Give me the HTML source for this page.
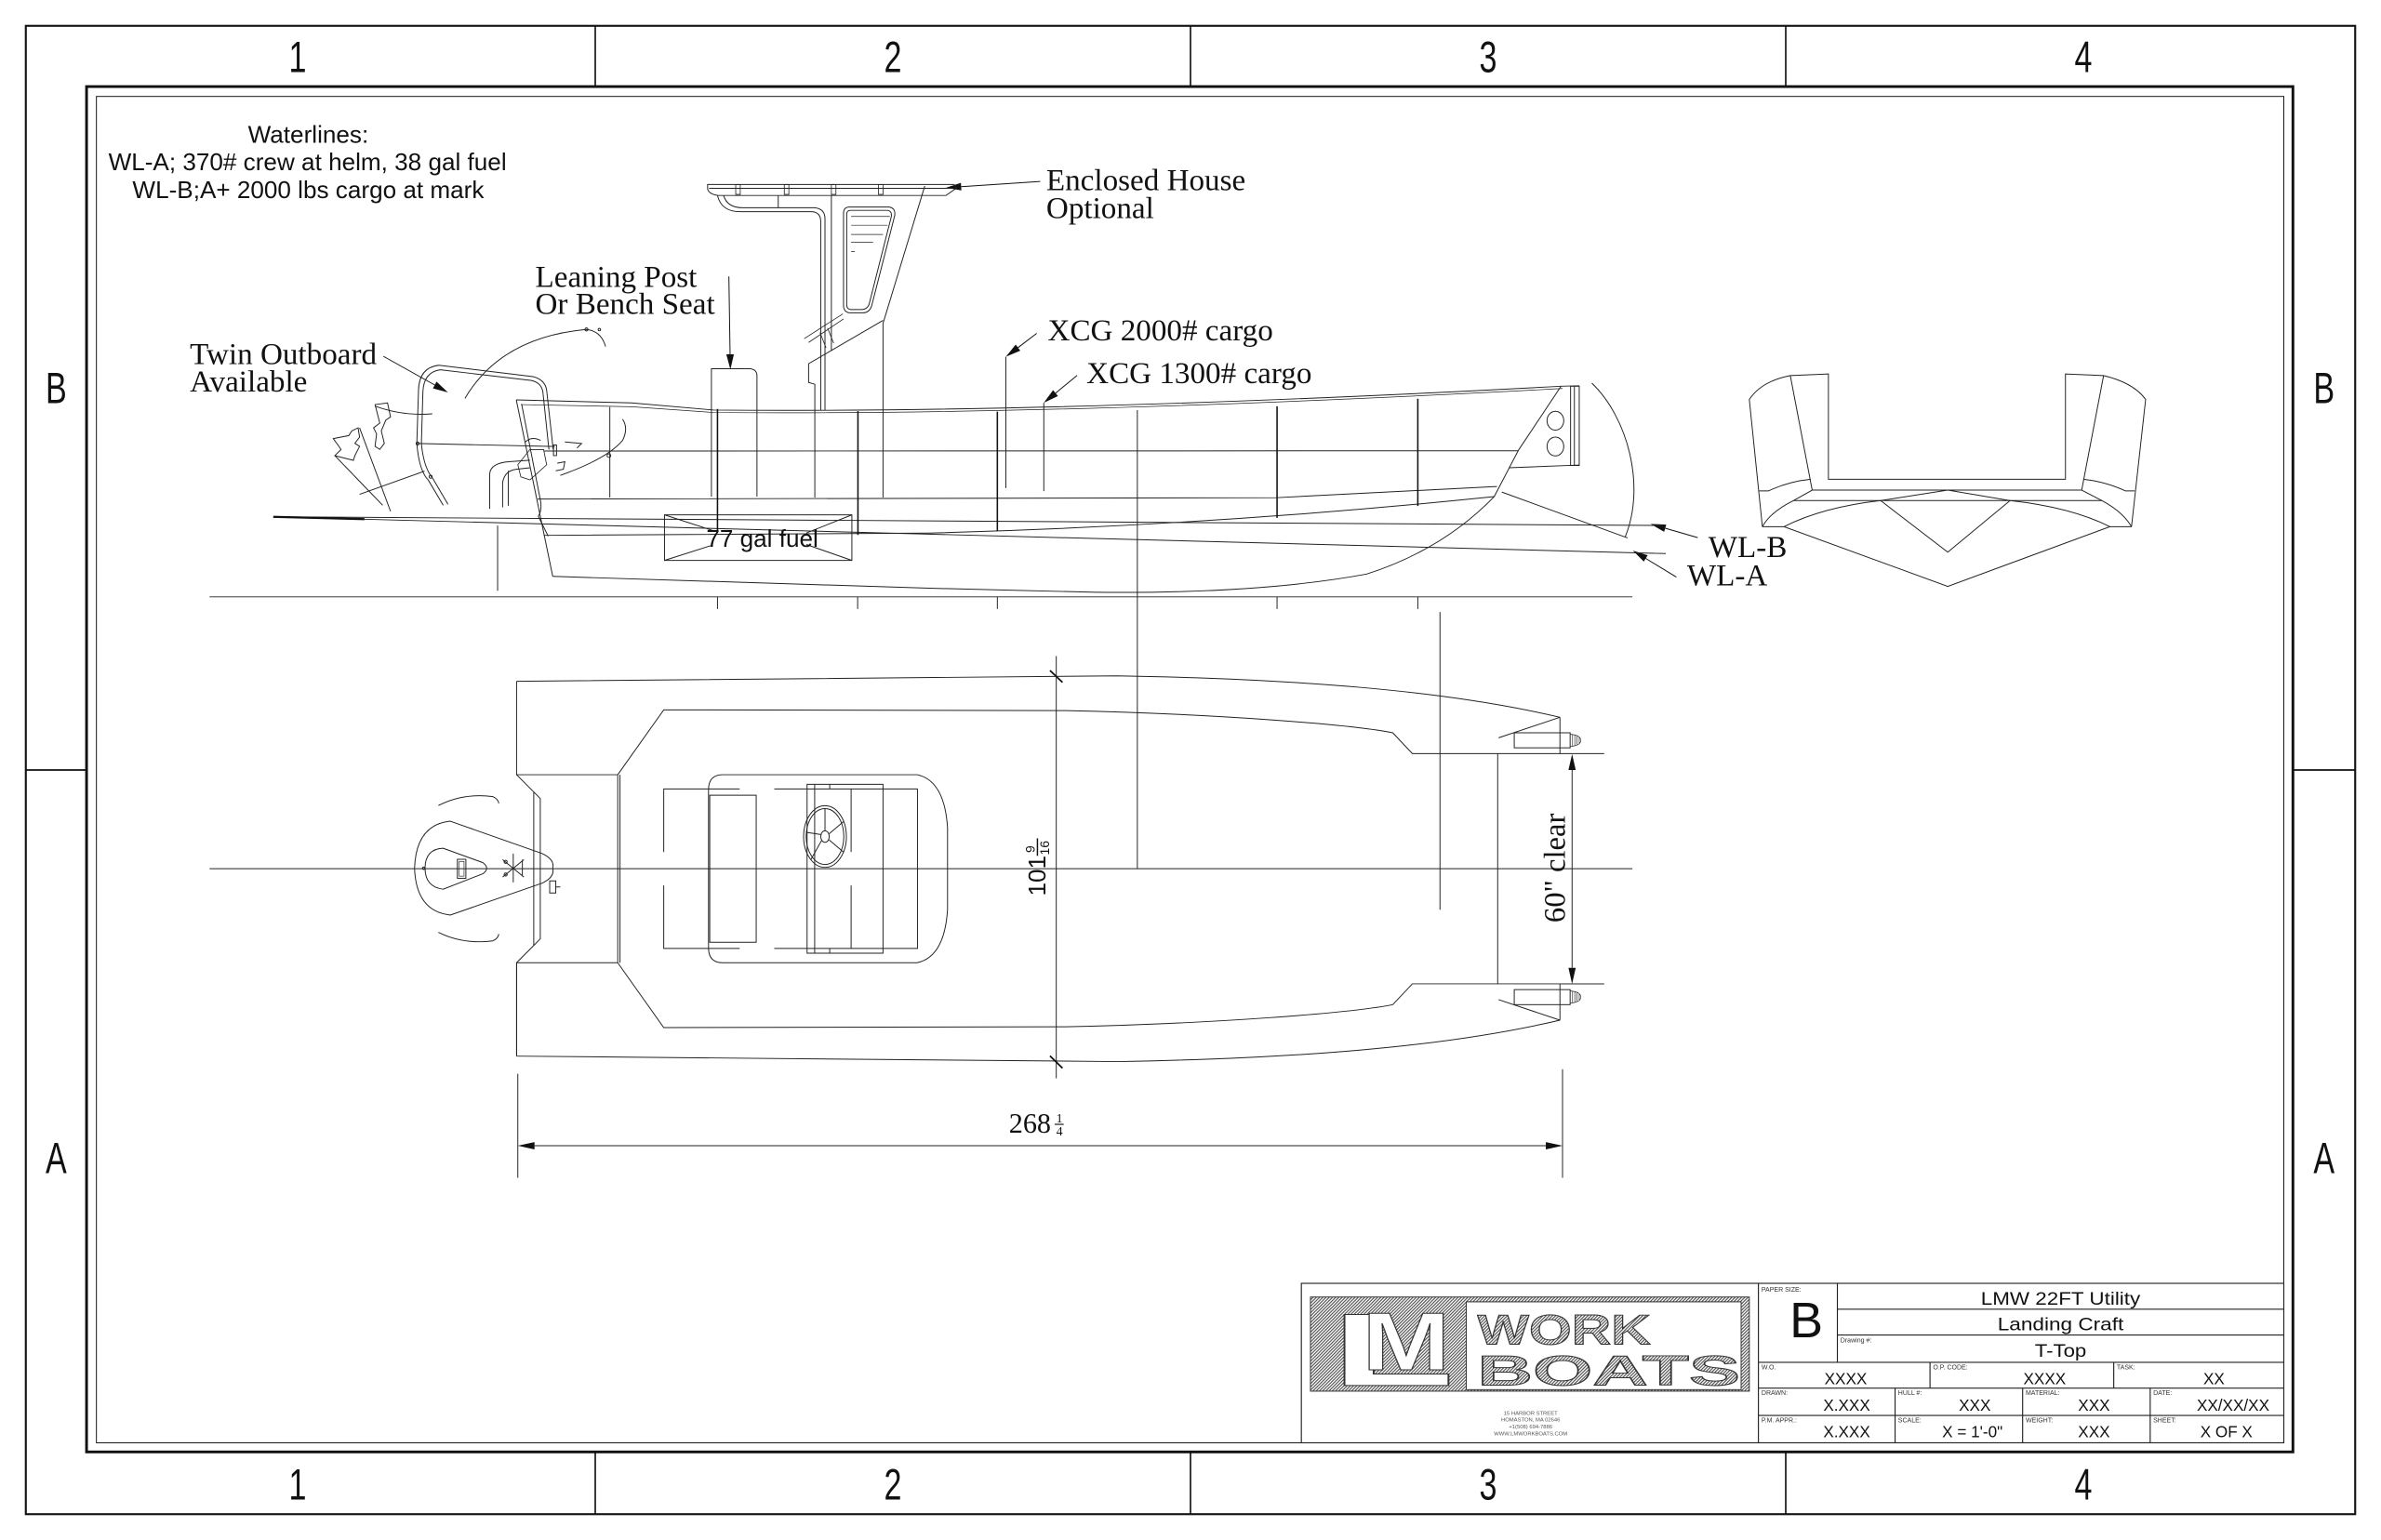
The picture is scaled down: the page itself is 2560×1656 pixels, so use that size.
<!DOCTYPE html>
<html><head><meta charset="utf-8"><style>
html,body{margin:0;padding:0;background:#fff;overflow:hidden}
svg{display:block}
</style></head><body>
<svg xmlns="http://www.w3.org/2000/svg" width="2560" height="1656" viewBox="0 0 1568 1014" preserveAspectRatio="none">
<defs>
<pattern id="h" width="1.5" height="1.5" patternUnits="userSpaceOnUse" patternTransform="rotate(45)"><rect width="1.5" height="1.5" fill="#fff"/><line x1="0.5" y1="0" x2="0.5" y2="1.5" stroke="#333" stroke-width="0.6"/></pattern>
<g id="ph" fill="none" stroke="#222" stroke-width="0.6">
  <path d="M340.2,448.6 L735.5,445 C850,447 950,454 1027.3,472.3"/>
  <path d="M340.2,448.6 L340.2,510.1 L355.8,525.8 L355.8,572 M351.5,521.5 L351.5,572"/>
  <path d="M340.2,510.1 L406.8,510.1 M406.8,510.1 L406.8,572 M408.3,510.1 L408.3,572"/>
  <path d="M406.8,510.1 L437.1,467.4 L702,467.9 C800,470 890,477 917.2,482.5 L930.1,496.2 L1028,496.2 L1056.4,496.2"/>
  <path d="M1027.3,472.3 L1027.3,496.2 M986.9,485.8 L1027.3,472.3"/>
  <rect x="997.2" y="482.5" width="36.8" height="9.9"/>
  <path d="M1034,483.5 Q1041,484 1041,487.5 Q1041,491 1034,491.5 M1035.6,483.8V491.2 M1037.1,484.2V490.8 M1038.6,484.8V490.2 M1040,485.6V489.4" stroke-width="0.4"/>
  <!-- console outline -->
  <path d="M466.6,572 L466.6,520 Q466.6,510.1 476,510.1 L604,510.1 Q622,514 624,545 L624,572"/>
  <!-- seat -->
  <path d="M437.1,561 L437.1,519.5 L487.1,519.5 M509.9,519.5 L604.2,519.5 L604.2,572"/>
  <path d="M467.4,572 L467.4,523.6 L498,523.6 L498,572"/>
  <path d="M531.5,572 L531.5,516.4 L581.5,516.4 L581.5,572 M536.5,516.4 L536.5,572 M546.4,516.4 L546.4,519.5 M560.5,519.5 L560.5,561"/>
</g>
</defs>
<rect width="1568" height="1014" fill="#fff"/>

<!-- FRAME -->
<g fill="none" stroke="#111">
<rect x="17" y="17" width="1534" height="980" stroke-width="1.3"/>
<rect x="57" y="57" width="1453" height="899" stroke-width="1.8"/>
<rect x="63.5" y="63.5" width="1440.5" height="886.5" stroke-width="0.6"/>
<path d="M392,17V57M784,17V57M1176,17V57M392,956V997M784,956V997M1176,956V997M17,507H57M1510,507H1551" stroke-width="1"/>
</g>
<g font-family="Liberation Sans, sans-serif" font-size="29" text-anchor="middle" fill="#111">
<text transform="translate(196,47.5) scale(0.72,1)">1</text>
<text transform="translate(588,47.5) scale(0.72,1)">2</text>
<text transform="translate(980,47.5) scale(0.72,1)">3</text>
<text transform="translate(1372,47.5) scale(0.72,1)">4</text>
<text transform="translate(196,987.5) scale(0.72,1)">1</text>
<text transform="translate(588,987.5) scale(0.72,1)">2</text>
<text transform="translate(980,987.5) scale(0.72,1)">3</text>
<text transform="translate(1372,987.5) scale(0.72,1)">4</text>
<text transform="translate(37,265.5) scale(0.72,1)">B</text>
<text transform="translate(1530.5,265.5) scale(0.72,1)">B</text>
<text transform="translate(37,772.5) scale(0.72,1)">A</text>
<text transform="translate(1530.5,772.5) scale(0.72,1)">A</text>
</g>

<!-- NOTES -->
<g font-family="Liberation Sans, sans-serif" font-size="16" text-anchor="middle" fill="#111">
<text x="203" y="94">Waterlines:</text>
<text x="202.5" y="112">WL-A; 370# crew at helm, 38 gal fuel</text>
<text x="203" y="130.5">WL-B;A+ 2000 lbs cargo at mark</text>
</g>
<g font-family="Liberation Serif, serif" font-size="20.3" fill="#111">
<text x="689" y="125.2">Enclosed House</text>
<text x="689" y="143.5">Optional</text>
<text x="352.5" y="188.8">Leaning Post</text>
<text x="352.5" y="206.8">Or Bench Seat</text>
<text x="125" y="239.8">Twin Outboard</text>
<text x="125" y="257.8">Available</text>
<text x="690" y="224.2">XCG 2000# cargo</text>
<text x="715.5" y="252.3">XCG 1300# cargo</text>
<text x="1125" y="366.9">WL-B</text>
<text x="1111" y="385.5">WL-A</text>
</g>

<!-- LEADERS + ARROWHEADS -->
<g stroke="#111" stroke-width="0.6" fill="none">
<path d="M685,119.5 L633,122.9"/>
<path d="M480,182 L480.8,233.3"/>
<path d="M252.5,234.6 L286.3,253.5"/>
<path d="M682.7,219.5 L670.4,228.9"/>
<path d="M709.3,247.2 L695.1,258.9"/>
<path d="M1118,354 L1096.6,347.8"/>
<path d="M1104,380 L1083.8,367.7"/>
</g>
<g fill="#111">
<polygon points="623,123.6 632.8,120.4 633.1,125.4"/>
<polygon points="481,243.3 478.3,233.3 483.3,233.3"/>
<polygon points="295,258.4 285.1,255.7 287.5,251.3"/>
<polygon points="662.4,234.9 668.9,226.9 671.9,230.9"/>
<polygon points="687.4,265.2 693.5,256.9 696.7,260.8"/>
<polygon points="1087,345 1097.3,345.4 1095.9,350.2"/>
<polygon points="1075.3,362.5 1085.1,365.6 1082.5,369.8"/>
</g>

<!-- SIDE VIEW -->
<g fill="none" stroke="#222" stroke-width="0.6">
  <!-- T-top canopy -->
  <path d="M466,121.5 L628,121.5 Q630.5,122.5 629,124.5 L623,128.7 L473,128.7 Q467,128 466,124.5 Z"/>
  <path d="M467,124 L627,124"/>
  <path d="M484.5,121.5h3v6.5h-3z M516.5,121.5h3v6.5h-3z M547.5,121.5h3v6.5h-3z M578.5,121.5h3v6.5h-3z" stroke-width="0.5"/>
  <!-- tube -->
  <path d="M472.5,128.7 Q475,139.4 487.5,139.4 L535,139.4 Q540.5,140 540.5,146 L540.5,270"/>
  <path d="M476.5,128.7 Q479,136.8 489,136.8 L536.5,136.8 Q543.3,137.5 543.3,144 L543.3,270"/>
  <path d="M512.5,128.7 L512.5,136.8"/>
  <!-- console -->
  <path d="M609,122.5 L581.5,213 L581.5,327.6"/>
  <path d="M547.5,128.7 L547.5,231"/>
  <path d="M581.5,211 L532.5,239.5 L532.5,251.8 L536.6,253 L536.6,327.6"/>
  <!-- window -->
  <path d="M559,136.3 L585.5,136.3 Q590,137 589.2,142 L574,201.5 Q572.5,206 568,206 L559.5,206 Q555.5,205.5 555.5,201 L555.5,140.5 Q555.5,136.5 559,136.3 Z"/>
  <path d="M560,138.5 L584.5,138.5 Q587.5,139 587,142.5 L572.3,200.5 Q571,203.8 567.5,203.8 L560,203.8 Q557.6,203.4 557.6,200.5 L557.6,141 Q557.6,138.7 560,138.5 Z"/>
  <path d="M560.5,142.5 L586,142.5 M560.5,148.3 L584.5,148.3 M560.5,154.4 L581.5,154.4 M560.5,159.5 L575,159.5 M560.5,165.6 L563,165.6" stroke-width="0.45"/>
  <!-- throttle -->
  <path d="M529.6,223 L555,206.7 M532.5,225.5 L555.5,210 M540,219 L544,229 M545,216 L549,226" stroke-width="0.5"/>
  <!-- leaning post -->
  <path d="M468.5,327 L468.5,242.8 L494,242.8 Q498.5,243.3 498.5,247.5 L498.5,327"/>
  <!-- sheer / rub rail -->
  <path d="M340,263.3 L416,265.3 L470,270 Q700,272 1028,254.3"/>
  <path d="M343,266.4 L416,267.8 L470,271.6 Q700,273.6 1029,255.8" stroke-width="0.45"/>
  <!-- transom -->
  <path d="M340,263.3 L364,379.5"/>
  <path d="M343.5,266 L356,330 Q357,336 354.5,340 L361,353"/>
  <!-- deck lines -->
  <path d="M354,328.6 L840.5,327.7 L985.8,320.3"/>
  <path d="M358,297 L1000,296.8"/>
  <path d="M358,352.5 L612,351 Q800,346 984,327"/>
  <!-- keel & bow -->
  <path d="M364,379.5 L612,387.3 L722,390 Q830,391 900,378 Q950,362 984,327 L1000,296.4 L1028,254.3 L1040,254"/>
  <!-- ramp -->
  <rect x="1034.3" y="254.3" width="5.7" height="52.2"/>
  <path d="M1036.8,254.3 L1036.8,306.5 M993.6,308 L1040,306.2"/>
  <ellipse cx="1024.3" cy="277" rx="5.5" ry="6.2"/>
  <ellipse cx="1024.3" cy="294" rx="5.5" ry="6.2"/>
  <path d="M1048.3,252.3 C1072,275 1084,320 1070.2,353.7"/>
  <path d="M989,324 L1071.8,354.2"/>
  <!-- waterlines -->
  <path d="M183,340.3 L1095,346"/>
  <path d="M180,340.3 L1097,364.5"/>
  <path d="M180,340.3 L240,341.8" stroke-width="1.4" stroke="#111"/>
  <!-- fuel box -->
  <rect x="437.6" y="339" width="123.4" height="30"/>
  <path d="M437.6,339 L470,349.5 M437.6,369 L469,359 M561,339 L531,351 M561,369 L531,358.5"/>
  <!-- station lines -->
  <path d="M401.6,268 L401.6,327.6 M662.4,234.9 L662.4,321.4 M687.4,265.2 L687.4,323.4 M749,270 L749,572 M327.7,346 L327.7,389 M948.3,403 L948.3,599"/>
  <path d="M472.5,269.3 L472.5,350 M565,270.7 L565,352.2 M656.8,271 L656.8,349.6 M841,267.5 L841,341 M933.7,262.5 L933.7,333.2" stroke="#111" stroke-width="0.95"/>
  <!-- baseline + ticks -->
  <path d="M138,393 L1075,393"/>
  <path d="M472.5,393 L472.5,401 M564.8,393 L564.8,401 M656.8,393 L656.8,401 M841,393 L841,401 M933.7,393 L933.7,401"/>
  <!-- outboard -->
  <path d="M274.5,292 L275.6,257 Q276,242 289,240.5 L351,248 Q359,250 360,257 L364.3,296"/>
  <path d="M277.5,292 L278.5,258 Q279,245 290,243.5 L350,250.5 Q356.5,252 357.5,258 L361.5,296"/>
  <path d="M274.5,292 Q276,310 282,316 L291.9,332.7 M277.5,292 Q279,308 285,315 L295,332"/>
  <path d="M274.5,292 L365.3,294"/>
  <circle cx="275" cy="292" r="1"/><circle cx="283.6" cy="313.9" r="1"/>
  <path d="M219.5,288.8 L229.7,286.8 L231.7,283.7 L235.8,281.7 L236.8,287.8 L233.7,291.9 L236.8,293.9 L233.7,300 L232.7,303.1 L220.5,300 L224.6,296 L222.5,292.9 Z"/>
  <path d="M247,266.4 L255.2,265.3 L257.2,274.5 L254.1,276.6 L251.1,283.7 L253.1,291.9 L250.1,295.9 L247,293.9 L248,285.7 L246,281.7 L250.1,278.6 Z"/>
  <path d="M236.8,281.7 L257.2,336.7 M220.5,300 L252,332.7 M236.8,325.5 L279.6,310.2"/>
  <path d="M247,267.4 Q265,274 284.7,272.5"/>
  <path d="M306.2,262.3 Q330,222 386.2,216.9 Q396,218 398.8,228.2"/>
  <circle cx="386.2" cy="216.9" r="1"/><circle cx="394.7" cy="217" r="0.8"/>
  <path d="M322.5,335 L322.5,312 Q323,305 335,304 L349,303 M331,334 L331,318 Q332,310 340,309 L349,308 M334.7,310 L334.7,333"/>
  <path d="M341,306 L349,296 L358,296 L360,306 L349,316 L343,314 Z" stroke-width="0.5"/>
  <path d="M369,313 Q400,302 410,290 Q414,282 410,276"/>
  <circle cx="401" cy="300" r="1.2"/>
  <path d="M364.5,293 h2 v7 h-2 z M372,291 L383,292 L380,295 M346,291 Q350,287 356,290 M367,305 L372,304 L371,309 L366,310"/>
</g>

<!-- END VIEW -->
<g fill="none" stroke="#222" stroke-width="0.6">
  <path d="M1160.6,346.8 L1152,263 Q1160,251 1179,247.3 L1204.1,246.2 L1204.1,315.6 L1360.2,315.6 L1360.2,246.2 L1385.3,247.3 Q1405,252 1413,263 L1403.7,346.8"/>
  <path d="M1179,247.3 L1193.4,322.7 M1385.3,247.3 L1370.9,322.7"/>
  <path d="M1193.4,322.7 L1370.9,322.7"/>
  <path d="M1181.1,329.6 L1384.2,329.6"/>
  <path d="M1193.4,322.7 L1181.1,329.6 Q1166,337 1160.6,346.8 M1370.9,322.7 L1384.2,329.6 Q1398,337 1403.7,346.8"/>
  <path d="M1174.9,346.8 Q1200,334 1238.5,329.6 L1282.7,322.7 L1323.7,329.6 Q1364,334 1389.4,346.8"/>
  <path d="M1238.5,329.6 L1282.7,363.6 L1323.7,329.6"/>
  <path d="M1160.6,346.8 L1174.9,346.8 L1282.7,386.1 L1389.4,346.8 L1403.7,346.8"/>
  <path d="M1158.5,323.2 L1164.7,323.2 Q1178,317 1192.4,315.6 M1405.8,323.2 L1399.6,323.2 Q1386,317 1371.9,315.6"/>
</g>

<!-- PLAN VIEW -->
<use href="#ph"/>
<use href="#ph" transform="translate(0,1144) scale(1,-1)"/>
<g fill="none" stroke="#222" stroke-width="0.6">
  <path d="M340.2,695.4 L340.2,634.2"/>
  <path d="M986.3,496.2 L986.3,647.8"/>
  <path d="M138,572 L1075,572"/>
  <!-- steering wheel -->
  <ellipse cx="543.3" cy="550.8" rx="14.1" ry="20.3"/>
  <ellipse cx="543.3" cy="550.8" rx="12.4" ry="18.4"/>
  <ellipse cx="543.3" cy="550.8" rx="2.8" ry="3.8"/>
  <path d="M543.3,547 L543.3,532.4 M546,549 L555.5,541 M546,553 L555.5,561 M541,553.5 L534,566 M540.5,549.5 L531,548"/>
  <!-- outboard plan -->
  <path d="M296.5,540.7 L357,562 Q365.5,566 364,571.7 Q365.5,577.5 357,581.5 L296.5,602.5 Q274,600 273,571.7 Q274,543 296.5,540.7 Z"/>
  <path d="M291.8,558.5 L318,568 Q323,571.7 318,575.3 L291.8,585.5 Q280,584 279.9,571.7 Q280,559 291.8,558.5 Z"/>
  <rect x="301.2" y="565.8" width="5.6" height="12.5"/>
  <rect x="302.4" y="567.2" width="3.2" height="9.7" stroke-width="0.4"/>
  <path d="M331,566 L345,577.5 M331,577.5 L345,566 M338,562 L338,581 M344,566 L344,577"/>
  <circle cx="333" cy="567.5" r="1"/><circle cx="333" cy="575.8" r="1"/><circle cx="279" cy="571.7" r="0.8"/>
  <path d="M362,580 L366,580 L366,588 L362,588 Z M366,584 L369,584"/>
  <path d="M288.7,530.4 Q305,522 324.5,524.5 Q328,526 328.5,529"/>
  <path d="M288.7,613.9 Q305,622 324.5,619.5 Q328,618 328.5,615"/>
  <!-- dims -->
  <path d="M695.6,432 L695.6,710 M691.5,441.5 L699.7,449.3 M691.5,695.3 L699.7,703.3" />
  <path d="M691.5,441.5 L699.7,449.3 M691.5,695.3 L699.7,703.3" stroke="#111" stroke-width="1.1"/>
  <path d="M1028,647.8 L1056.4,647.8"/>
  <path d="M1035.3,507 L1035.3,637.3"/>
  <path d="M341,707 L341,775.5 M1029,704 L1029,775.5 M352,754.4 L1018,754.4"/>
</g>
<g fill="#111">
  <polygon points="1035.3,496.5 1032.9,507 1037.7,507"/>
  <polygon points="1035.3,647.8 1032.9,637.3 1037.7,637.3"/>
  <polygon points="341,754.4 352,752 352,756.8"/>
  <polygon points="1029,754.4 1018,752 1018,756.8"/>
</g>
<g transform="translate(688.5,590) rotate(-90)" fill="#111" font-family="Liberation Sans, sans-serif">
  <text x="0" y="0" font-size="16">101</text>
  <text x="28.5" y="-7" font-size="8.5">9</text>
  <line x1="26.5" y1="-5.3" x2="38" y2="-5.3" stroke="#111" stroke-width="0.9"/>
  <text x="27" y="2.5" font-size="8.5">16</text>
</g>
<g transform="translate(1030.5,607.5) rotate(-90)" fill="#111" font-family="Liberation Serif, serif" font-size="20">
  <text x="0" y="0">60" clear</text>
</g>
<g fill="#111" font-family="Liberation Serif, serif">
  <text x="664.4" y="745.8" font-size="18.5">268</text>
  <text x="695.6" y="739" font-size="8.5">1</text>
  <line x1="694.5" y1="740.3" x2="700.5" y2="740.3" stroke="#111" stroke-width="0.7"/>
  <text x="695.6" y="747.5" font-size="8.5">4</text>
</g>
<text x="502" y="360" font-family="Liberation Sans, sans-serif" font-size="16" text-anchor="middle" fill="#111">77 gal fuel</text>

<!-- TITLE BLOCK -->
<g fill="none" stroke="#222" stroke-width="0.7">
  <rect x="857" y="845" width="647" height="105"/>
  <path d="M1158,845 L1158,950 M1210,845 L1210,897 M1210,862 L1504,862 M1210,879 L1504,879 M1158,897 L1504,897 M1158,914 L1504,914 M1158,932 L1504,932 M1271,897 L1271,914 M1392,897 L1392,914 M1248,914 L1248,950 M1332,914 L1332,950 M1416,914 L1416,950"/>
</g>
<rect x="863" y="854" width="289" height="62" fill="url(#h)" stroke="#333" stroke-width="0.6"/>
<rect x="965.6" y="857.2" width="181" height="57.8" fill="#fff" stroke="#333" stroke-width="0.6"/>
<g font-family="Liberation Sans, sans-serif" font-weight="bold" stroke="#333" stroke-width="0.6">
  <text x="876.5" y="912.3" font-size="68" fill="#fff" textLength="81.5" lengthAdjust="spacingAndGlyphs">L</text>
  <text x="897" y="902" font-size="54" fill="#fff" textLength="58" lengthAdjust="spacingAndGlyphs">M</text>
  <text x="973" y="885" font-size="28" fill="url(#h)" textLength="114" lengthAdjust="spacingAndGlyphs">WORK</text>
  <text x="973" y="912" font-size="28" fill="url(#h)" textLength="173" lengthAdjust="spacingAndGlyphs">BOATS</text>
</g>
<g font-family="Liberation Sans, sans-serif" font-size="3.6" fill="#555" text-anchor="middle">
  <text x="1008" y="931.5">15 HARBOR STREET</text>
  <text x="1008" y="936">HOMASTON, MA 02646</text>
  <text x="1008" y="940.5">+1(508) 694-7886</text>
  <text x="1008" y="945">WWW.LMWORKBOATS.COM</text>
</g>
<g font-family="Liberation Sans, sans-serif" font-size="4.3" fill="#333">
  <text x="1160" y="850.5">PAPER SIZE:</text>
  <text x="1212" y="884">Drawing #:</text>
  <text x="1160" y="901.5">W.O.</text>
  <text x="1273" y="901.5">O.P. CODE:</text>
  <text x="1394" y="901.5">TASK:</text>
  <text x="1160" y="918.5">DRAWN:</text>
  <text x="1250" y="918.5">HULL #:</text>
  <text x="1334" y="918.5">MATERIAL:</text>
  <text x="1418" y="918.5">DATE:</text>
  <text x="1160" y="936.5">P.M. APPR.:</text>
  <text x="1250" y="936.5">SCALE:</text>
  <text x="1334" y="936.5">WEIGHT:</text>
  <text x="1418" y="936.5">SHEET:</text>
</g>
<g font-family="Liberation Sans, sans-serif" fill="#111">
  <text x="1189.5" y="880.5" font-size="33" text-anchor="middle">B</text>
  <text x="1357" y="859" font-size="12" text-anchor="middle" textLength="105" lengthAdjust="spacingAndGlyphs">LMW 22FT Utility</text>
  <text x="1357" y="876" font-size="12" text-anchor="middle" textLength="83" lengthAdjust="spacingAndGlyphs">Landing Craft</text>
  <text x="1357" y="893.5" font-size="12" text-anchor="middle" textLength="34" lengthAdjust="spacingAndGlyphs">T-Top</text>
</g>
<g font-family="Liberation Sans, sans-serif" font-size="10.5" fill="#111">
  <text x="1201.5" y="911.5">XXXX</text>
  <text x="1332.5" y="911.5">XXXX</text>
  <text x="1451" y="911.5">XX</text>
  <text x="1200.7" y="928.8">X.XXX</text>
  <text x="1290" y="928.8">XXX</text>
  <text x="1368.5" y="928.8">XXX</text>
  <text x="1446.7" y="928.8">XX/XX/XX</text>
  <text x="1200.7" y="946.3">X.XXX</text>
  <text x="1279" y="946.3">X = 1'-0"</text>
  <text x="1368.5" y="946.3">XXX</text>
  <text x="1449" y="946.3">X  OF  X</text>
</g>
</svg>
</body></html>
